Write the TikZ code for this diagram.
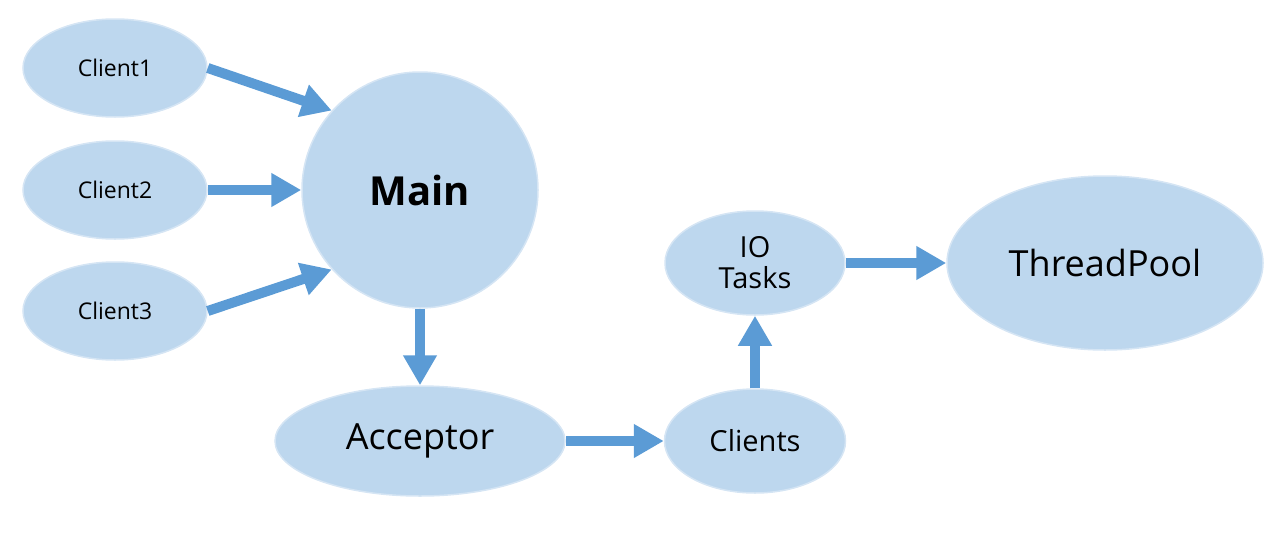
\documentclass[tikz,border=0pt]{standalone}
\usepackage{fontspec}
\setmainfont{Open Sans}
\usetikzlibrary{shapes.geometric,arrows.meta}
\definecolor{ellfill}{HTML}{BDD7EE}
\definecolor{ellline}{HTML}{D5E5F4}
\definecolor{arrowblue}{HTML}{5B9BD5}
\begin{document}
\begin{tikzpicture}[x=1pt, y=-1pt,
  every node/.style = {shape=ellipse, fill=ellfill, draw=ellline,
    line width=1.5pt, inner sep=0pt, align=center},
  client/.style = {minimum width=184pt, minimum height=98pt,
    font=\fontsize{23}{27}\selectfont},
  flow/.style = {draw=arrowblue, line width=10pt,
    -{Triangle[width=32pt,length=30pt]}}]
  \useasboundingbox (0,0) rectangle (1288,533);
  \node[client] (c1) at (115,68) {Client1};
  \node[client] (c2) at (115,190) {Client2};
  \node[client] (c3) at (115,311) {Client3};
  \node[circle, minimum size=236pt, font=\fontsize{40}{46}\selectfont\bfseries]
    (main) at (420,190) {Main};
  \node[minimum width=290pt, minimum height=110pt, font=\fontsize{36}{42}\selectfont]
    (acceptor) at (420,441) {Acceptor};
  \node[minimum width=181pt, minimum height=104pt, font=\fontsize{29}{31}\selectfont]
    (clients) at (755,441) {Clients};
  \node[minimum width=180pt, minimum height=104pt, font=\fontsize{29}{31}\selectfont]
    (io) at (755,263) {IO\\Tasks};
  \node[minimum width=316pt, minimum height=174pt, font=\fontsize{36}{42}\selectfont]
    (pool) at (1105,263) {ThreadPool};
  % arrows
  \draw[flow] (c1.east) -- (main.138);
  \draw[flow] (c2.east) -- (main.west);
  \draw[flow] (c3.east) -- (main.222);
  \draw[flow] (main.south) -- (acceptor.north);
  \draw[flow] (acceptor.east) -- (clients.west);
  \draw[flow] (clients.north) -- (io.south);
  \draw[flow] (io.east) -- (pool.west);
\end{tikzpicture}
\end{document}
